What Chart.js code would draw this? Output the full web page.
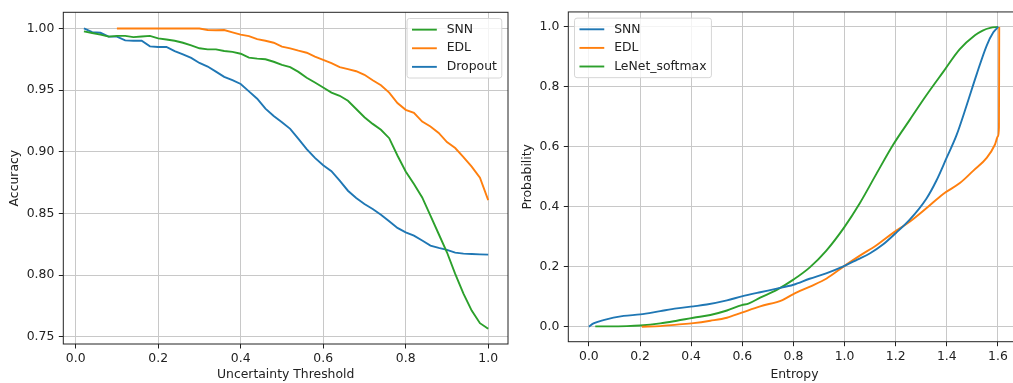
<!DOCTYPE html>
<html lang="en">
<head>
<meta charset="UTF-8" />
<title>Accuracy vs Threshold / Entropy CDF</title>
<script src="https://cdn.jsdelivr.net/npm/chart.js"></script>
<style>
  html, body { margin: 0; padding: 0; background: #fff; overflow: hidden; }
  #wrap { position: relative; width: 1013px; height: 383px; overflow: hidden; }
  canvas { position: absolute; top: 0; }
  #accChart { left: 0; }
  #entChart { left: 513px; }
</style>
</head>
<body>
<div id="wrap">
  <canvas id="accChart" width="513" height="383"></canvas>
  <canvas id="entChart" width="520" height="383"></canvas>
</div>

<script>
// ===== left panel: accuracy vs uncertainty threshold =====
const thresholds = [0.02, 0.04, 0.06, 0.08, 0.10, 0.12, 0.14, 0.16, 0.18, 0.20,
                    0.22, 0.24, 0.26, 0.28, 0.30, 0.32, 0.34, 0.36, 0.38, 0.40,
                    0.42, 0.44, 0.46, 0.48, 0.50, 0.52, 0.54, 0.56, 0.58, 0.60,
                    0.62, 0.64, 0.66, 0.68, 0.70, 0.72, 0.74, 0.76, 0.78, 0.80,
                    0.82, 0.84, 0.86, 0.88, 0.90, 0.92, 0.94, 0.96, 0.98, 1.00];
const snnAcc = [0.9976, 0.9963, 0.995, 0.9934, 0.994, 0.994, 0.993, 0.9935, 0.994, 0.992,
                0.991, 0.990, 0.9884, 0.9862, 0.9839, 0.983, 0.983, 0.9817, 0.981, 0.9795,
                0.9763, 0.9755, 0.975, 0.973, 0.9704, 0.9686, 0.9648, 0.960, 0.9562, 0.9521,
                0.948, 0.9454, 0.9414, 0.9347, 0.928, 0.9226, 0.9178, 0.911, 0.897, 0.884,
                0.8738, 0.863, 0.8482, 0.8333, 0.8185, 0.801, 0.7849, 0.7712, 0.761, 0.7564];
const edlAcc = [null, null, null, null, 1.0, 1.0, 1.0, 1.0, 1.0, 1.0,
                1.0, 1.0, 1.0, 1.0, 1.0, 0.9988, 0.9985, 0.9987, 0.9968, 0.995,
                0.9938, 0.9913, 0.990, 0.9884, 0.9852, 0.9839, 0.982, 0.9803, 0.9771, 0.9745,
                0.9718, 0.9686, 0.967, 0.9653, 0.9624, 0.958, 0.954, 0.948, 0.9395, 0.934,
                0.9315, 0.9245, 0.9205, 0.9153, 0.9078, 0.903, 0.8957, 0.888, 0.879, 0.8608];
const dropoutAcc = [1.000, 0.997, 0.9965, 0.9934, 0.9934, 0.9903, 0.990, 0.990, 0.9855, 0.985,
                    0.985, 0.9816, 0.979, 0.9761, 0.972, 0.9691, 0.965, 0.9607, 0.958, 0.955,
                    0.949, 0.943, 0.935, 0.929, 0.924, 0.9186, 0.9105, 0.9022, 0.895, 0.889,
                    0.8843, 0.8765, 0.8684, 0.8625, 0.8576, 0.8536, 0.849, 0.8436, 0.8382, 0.8347,
                    0.832, 0.828, 0.8239, 0.822, 0.8204, 0.8182, 0.8174, 0.8171, 0.8168, 0.8166];
const accXTicks = [0.0, 0.2, 0.4, 0.6, 0.8, 1.0];
const accYTicks = [0.75, 0.80, 0.85, 0.90, 0.95, 1.00];

// ===== right panel: probability vs entropy =====
const snnEntropy = [0, 0.018, 0.057, 0.136, 0.201, 0.279, 0.344, 0.409, 0.461, 0.54,
                    0.598, 0.67, 0.735, 0.8, 0.863, 0.928, 1.0, 1.05, 1.1, 1.15,
                    1.2, 1.255, 1.32, 1.359, 1.399, 1.438, 1.477, 1.516, 1.556, 1.582, 1.601];
const snnProb = [0, 0.011, 0.022, 0.036, 0.041, 0.052, 0.061, 0.068, 0.074, 0.088,
                 0.101, 0.115, 0.127, 0.14, 0.16, 0.178, 0.203, 0.224, 0.245, 0.274,
                 0.312, 0.357, 0.427, 0.487, 0.563, 0.639, 0.737, 0.84, 0.938, 0.982, 1.0];
const edlEntropy = [0.207, 0.279, 0.344, 0.409, 0.475, 0.54, 0.598, 0.67, 0.757, 0.8,
                    0.865, 0.93, 1.0, 1.06, 1.125, 1.19, 1.256, 1.321, 1.386, 1.451,
                    1.503, 1.556, 1.588, 1.600, 1.604, 1.605];
const edlProb = [0, 0.002, 0.007, 0.012, 0.02, 0.03, 0.047, 0.068, 0.089, 0.109,
                 0.134, 0.161, 0.203, 0.237, 0.272, 0.313, 0.351, 0.396, 0.443, 0.479,
                 0.52, 0.563, 0.607, 0.635, 0.665, 1.0];
const lenetEntropy = [0.025, 0.149, 0.201, 0.279, 0.344, 0.409, 0.475, 0.54, 0.598, 0.624,
                      0.67, 0.735, 0.8, 0.863, 0.928, 1.0, 1.059, 1.124, 1.19, 1.255,
                      1.32, 1.386, 1.45, 1.51, 1.54, 1.57, 1.601];
const lenetProb = [0.001, 0.002, 0.004, 0.011, 0.02, 0.03, 0.039, 0.054, 0.072, 0.077,
                   0.097, 0.123, 0.157, 0.197, 0.253, 0.333, 0.411, 0.509, 0.607, 0.69,
                   0.772, 0.85, 0.925, 0.972, 0.988, 0.997, 1.0];
const entXTicks = [0.0, 0.2, 0.4, 0.6, 0.8, 1.0, 1.2, 1.4, 1.6];
const entYTicks = [0.0, 0.2, 0.4, 0.6, 0.8, 1.0];

const BLUE = '#1f77b4', ORANGE = '#ff7f0e', GREEN = '#2ca02c';
const FS = 12.4;

Chart.defaults.font.family = '"DejaVu Sans", sans-serif';
Chart.defaults.font.size = FS;
Chart.defaults.color = '#222';

function points(xs, ys) {
    return xs.map((x, i) => ({ x: x, y: ys[i] })).filter(p => p.y !== null);
}

function line(label, color, data, smooth) {
    return { label: label, data: data, borderColor: color, backgroundColor: color,
             borderWidth: 1.9, pointRadius: 0, fill: false,
             cubicInterpolationMode: smooth ? 'monotone' : 'default', tension: smooth ? 0.4 : 0 };
}

// matplotlib style box round the axes
const frame = {
    id: 'frame',
    afterDatasetsDraw(chart) {
        const { ctx, chartArea: a } = chart;
        ctx.save();
        ctx.strokeStyle = '#222';
        ctx.lineWidth = 1;
        ctx.strokeRect(a.left, a.top, a.right - a.left, a.bottom - a.top);
        ctx.restore();
    }
};

// legend drawn inside the axes, in a corner
const boxLegend = {
    id: 'boxLegend',
    afterDraw(chart, args, opts) {
        const { ctx, chartArea: a } = chart;
        const items = chart.data.datasets.map(d => ({ text: d.label, color: d.borderColor }));
        ctx.save();
        ctx.font = FS + 'px "DejaVu Sans"';
        const textW = Math.max(...items.map(it => ctx.measureText(it.text).width));
        const pad = 0.4 * FS, handle = 2 * FS, gap = 0.8 * FS, rowH = FS, space = 0.5 * FS;
        const w = pad * 2 + handle + gap + textW;
        const h = pad * 2 + items.length * rowH + (items.length - 1) * space;
        const x0 = opts.corner === 'left' ? a.left + 0.5 * FS : a.right - 0.5 * FS - w;
        const y0 = a.top + 0.5 * FS;

        ctx.beginPath();
        ctx.roundRect(x0, y0, w, h, 2.5);
        ctx.fillStyle = 'rgba(255,255,255,0.8)';
        ctx.fill();
        ctx.strokeStyle = '#d6d6d6';
        ctx.lineWidth = 1;
        ctx.stroke();

        items.forEach((it, i) => {
            const cy = y0 + pad + rowH / 2 + i * (rowH + space);
            ctx.strokeStyle = it.color;
            ctx.lineWidth = 1.9;
            ctx.beginPath();
            ctx.moveTo(x0 + pad, cy);
            ctx.lineTo(x0 + pad + handle, cy);
            ctx.stroke();
            ctx.fillStyle = '#222';
            ctx.textAlign = 'left';
            ctx.textBaseline = 'middle';
            ctx.fillText(it.text, x0 + pad + handle + gap, cy);
        });
        ctx.restore();
    }
};

function axis(o) {
    return {
        type: 'linear',
        min: o.min,
        max: o.max,
        afterBuildTicks: s => { s.ticks = o.ticks.map(v => ({ value: v })); },
        afterFit: s => { if (o.horizontal) s.height = o.size; else s.width = o.size; },
        ticks: { autoSkip: false, maxRotation: 0, padding: o.tickPad,
                 callback: v => v.toFixed(o.digits) },
        grid: { color: '#c8c8c8', lineWidth: 1, tickLength: 4.5, tickColor: '#222', tickWidth: 1 },
        border: { display: false },
        title: { display: true, text: o.title, padding: o.titlePad }
    };
}

let accChart = new Chart(document.getElementById('accChart'), {
    type: 'line',
    data: {
        datasets: [
            line('SNN', GREEN, points(thresholds, snnAcc)),
            line('EDL', ORANGE, points(thresholds, edlAcc)),
            line('Dropout', BLUE, points(thresholds, dropoutAcc))
        ]
    },
    options: {
        responsive: false,
        animation: false,
        layout: { padding: { top: 12.3, right: 5, left: 0, bottom: 0 } },
        plugins: { legend: { display: false }, tooltip: { enabled: false }, boxLegend: { corner: 'right' } },
        scales: {
            x: axis({ horizontal: true, min: -0.030, max: 1.048, ticks: accXTicks, digits: 1,
                      size: 39, tickPad: 2.5, title: 'Uncertainty Threshold', titlePad: { top: 0, bottom: 1 } }),
            y: axis({ horizontal: false, min: 0.7441, max: 1.0131, ticks: accYTicks, digits: 2,
                      size: 63.3, tickPad: 4.5, title: 'Accuracy', titlePad: { top: 7.5, bottom: 0 } })
        }
    },
    plugins: [frame, boxLegend]
});

let entChart = new Chart(document.getElementById('entChart'), {
    type: 'line',
    data: {
        datasets: [
            line('SNN', BLUE, points(snnEntropy, snnProb), true),
            line('EDL', ORANGE, points(edlEntropy, edlProb), true),
            line('LeNet_softmax', GREEN, points(lenetEntropy, lenetProb), true)
        ]
    },
    options: {
        responsive: false,
        animation: false,
        layout: { padding: { top: 4.3, right: 12.3, left: 0, bottom: 0 } },
        plugins: { legend: { display: false }, tooltip: { enabled: false }, boxLegend: { corner: 'left' } },
        scales: {
            x: axis({ horizontal: true, min: -0.0805, max: 1.689, ticks: entXTicks, digits: 1,
                      size: 41.3, tickPad: 3, title: 'Entropy', titlePad: { top: 0, bottom: 1 } }),
            y: axis({ horizontal: false, min: -0.05, max: 1.05, ticks: entYTicks, digits: 1,
                      size: 55.3, tickPad: 4.5, title: 'Probability', titlePad: { top: 7, bottom: 0 } })
        }
    },
    plugins: [frame, boxLegend]
});
</script>
</body>
</html>
